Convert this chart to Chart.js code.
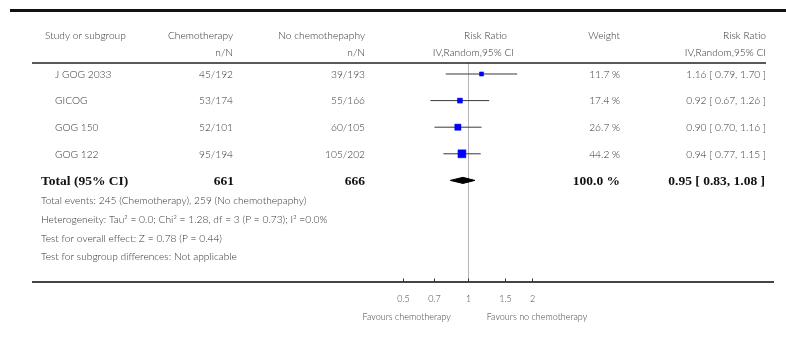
<!DOCTYPE html>
<html>
<head>
<meta charset="utf-8">
<script src="https://cdn.jsdelivr.net/npm/chart.js@4/dist/chart.umd.min.js"></script>
<style>
  html, body { margin: 0; padding: 0; background: #fff; }
  #wrap { width: 786px; height: 364px; }
</style>
</head>
<body>
<div id="wrap"><canvas id="forest" width="786" height="364"></canvas></div>
<script>
// Trials in the meta-analysis
const studies = ['J GOG 2033', 'GICOG', 'GOG 150', 'GOG 122'];
const chemoEvents = [45, 53, 52, 95];
const chemoTotals = [192, 174, 101, 194];
const noChemoEvents = [39, 55, 60, 105];
const noChemoTotals = [193, 166, 105, 202];
const riskRatio = [1.16, 0.92, 0.90, 0.94];
const ciLow = [0.79, 0.67, 0.70, 0.77];
const ciHigh = [1.70, 1.26, 1.16, 1.15];
const weights = [11.7, 17.4, 26.7, 44.2];

// Pooled random-effects estimate
const pooledRR = 0.95;
const pooledLow = 0.83;
const pooledHigh = 1.08;
const pooledWeight = 100.0;

// Axis ticks
const tickValues = [0.5, 0.7, 1, 1.5, 2];
const tickLabels = ['0.5', '0.7', '1', '1.5', '2'];

const footnotes = [
  'Total events: 245 (Chemotherapy), 259 (No chemothepaphy)',
  'Heterogeneity: Tau\u00B2 = 0.0; Chi\u00B2 = 1.28, df = 3 (P = 0.73); I\u00B2 =0.0%',
  'Test for overall effect: Z = 0.78 (P = 0.44)',
  'Test for subgroup differences: Not applicable'
];

const totalRow = studies.length;
const sum = a => a.reduce((s, v) => s + v, 0);

const SANS = 'Lato, "Open Sans", sans-serif';
const SERIF = '"Liberation Serif", "DejaVu Serif", serif';
const TXT = '#333';

// square markers scaled by study weight
const markerRadius = weights.map(w => (1.2 * Math.sqrt(w)) / Math.SQRT2);

const datasets = [];
datasets.push({
  label: 'Study estimates',
  data: riskRatio.map((v, i) => ({ x: v, y: i })),
  pointStyle: 'rect',
  pointRadius: markerRadius,
  pointHoverRadius: markerRadius,
  backgroundColor: '#0000ff',
  borderColor: '#0000ee',
  borderWidth: 0.5
});
studies.forEach((s, i) => {
  datasets.push({
    label: s + ' CI',
    data: [{ x: ciLow[i], y: i }, { x: ciHigh[i], y: i }],
    showLine: true,
    pointRadius: 0,
    borderColor: '#3a3a3a',
    borderWidth: 1
  });
});
const dh = 0.115;
datasets.push({
  label: 'Pooled',
  data: [
    { x: pooledLow, y: totalRow },
    { x: pooledRR, y: totalRow - dh },
    { x: pooledHigh, y: totalRow },
    { x: pooledRR, y: totalRow + dh },
    { x: pooledLow, y: totalRow }
  ],
  showLine: true,
  pointRadius: 0,
  borderColor: '#000',
  backgroundColor: '#000',
  borderWidth: 1,
  fill: 'shape'
});

function line(ctx, x1, y1, x2, y2, w, c) {
  ctx.save();
  ctx.beginPath();
  ctx.lineWidth = w;
  ctx.strokeStyle = c;
  ctx.moveTo(x1, y1);
  ctx.lineTo(x2, y2);
  ctx.stroke();
  ctx.restore();
}
function text(ctx, s, x, y, align, font, color) {
  ctx.font = font;
  ctx.fillStyle = color || TXT;
  ctx.textAlign = align;
  ctx.textBaseline = 'middle';
  ctx.fillText(s, x, y);
}

const forestDecor = {
  id: 'forestDecor',
  beforeDatasetsDraw(chart) {
    const { ctx, chartArea, scales } = chart;
    const x1 = Math.round(scales.x.getPixelForValue(1)) + 0.5;
    line(ctx, x1, chartArea.top, x1, chartArea.bottom, 1, '#b4b4b4');
  },
  afterDraw(chart) {
    const { ctx, chartArea, scales } = chart;
    const xs = scales.x, ys = scales.y;
    const f10 = '300 10.2px ' + SANS;
    const fb = 'bold 13.5px ' + SERIF;

    // rules
    line(ctx, 10, 10.5, 786, 10.5, 3, '#111');
    line(ctx, 32, 63, 766, 63, 1.3, '#222');
    line(ctx, 32, chartArea.bottom, 774, chartArea.bottom, 2, '#444');

    // header
    text(ctx, 'Study or subgroup', 45, 36, 'left', f10);
    text(ctx, 'Chemotherapy', 233, 36, 'right', f10);
    text(ctx, 'n/N', 233, 53, 'right', f10);
    text(ctx, 'No chemothepaphy', 365, 36, 'right', f10);
    text(ctx, 'n/N', 365, 53, 'right', f10);
    text(ctx, 'Risk Ratio', 507, 36, 'right', f10);
    text(ctx, 'IV,Random,95% CI', 514, 53, 'right', f10);
    text(ctx, 'Weight', 620, 36, 'right', f10);
    text(ctx, 'Risk Ratio', 766, 36, 'right', f10);
    text(ctx, 'IV,Random,95% CI', 766, 53, 'right', f10);

    // study rows
    studies.forEach((s, i) => {
      const y = ys.getPixelForValue(i) + 0.5;
      text(ctx, s, 55, y, 'left', f10);
      text(ctx, chemoEvents[i] + '/' + chemoTotals[i], 233, y, 'right', f10);
      text(ctx, noChemoEvents[i] + '/' + noChemoTotals[i], 365, y, 'right', f10);
      text(ctx, weights[i].toFixed(1) + ' %', 620, y, 'right', f10);
      text(ctx, riskRatio[i].toFixed(2) + ' [ ' + ciLow[i].toFixed(2) + ', ' + ciHigh[i].toFixed(2) + ' ]', 766, y, 'right', f10);
    });

    // pooled row
    const yt = ys.getPixelForValue(totalRow) + 1;
    text(ctx, 'Total (95% CI)', 41, yt, 'left', fb, '#111');
    text(ctx, String(sum(chemoTotals)), 234, yt, 'right', fb, '#111');
    text(ctx, String(sum(noChemoTotals)), 365, yt, 'right', fb, '#111');
    text(ctx, pooledWeight.toFixed(1) + ' %', 620, yt, 'right', fb, '#111');
    text(ctx, pooledRR.toFixed(2) + ' [ ' + pooledLow.toFixed(2) + ', ' + pooledHigh.toFixed(2) + ' ]', 765, yt, 'right', fb, '#111');

    // footnotes
    [201, 219.5, 238.5, 257].forEach((y, k) => text(ctx, footnotes[k], 41, y, 'left', f10));

    // x axis ticks and labels
    const yb = chartArea.bottom;
    const f9 = '300 9px ' + SANS;
    tickValues.forEach((v, k) => {
      const px = Math.round(xs.getPixelForValue(v)) + 0.5;
      line(ctx, px, yb - 3.5, px, yb, 1, '#333');
      text(ctx, tickLabels[k], px, yb + 17, 'center', f9, '#444');
    });
    const p1 = xs.getPixelForValue(1);
    text(ctx, 'Favours chemotherapy', p1 - 17, yb + 35, 'right', f9, '#444');
    text(ctx, 'Favours no chemotherapy', p1 + 19, yb + 35, 'left', f9, '#444');
  }
};

new Chart(document.getElementById('forest'), {
  type: 'scatter',
  data: { datasets },
  plugins: [forestDecor],
  options: {
    responsive: false,
    animation: false,
    devicePixelRatio: 1,
    layout: { padding: { left: 32, right: 12, top: 63, bottom: 82 } },
    plugins: { legend: { display: false }, tooltip: { enabled: false } },
    scales: {
      x: {
        type: 'logarithmic',
        bounds: 'data',
        min: 0.009326,
        max: 26.75,
        display: false
      },
      y: {
        type: 'linear',
        bounds: 'data',
        min: -0.4135,
        max: 7.82,
        reverse: true,
        display: false
      }
    }
  }
});
</script>
</body>
</html>
